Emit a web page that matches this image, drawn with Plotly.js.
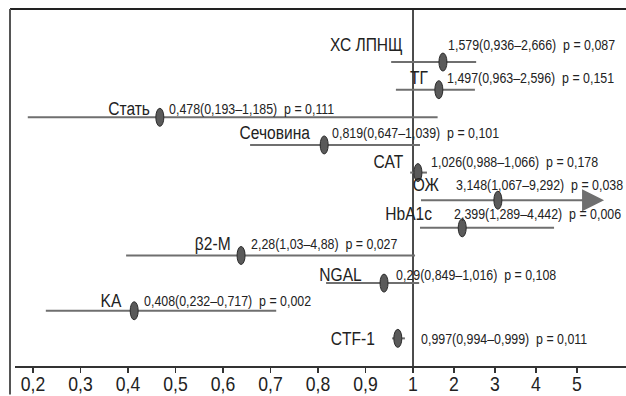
<!DOCTYPE html>
<html>
<head>
<meta charset="utf-8">
<script src="https://cdn.plot.ly/plotly-3.0.1.min.js"></script>
<style>html,body{margin:0;padding:0;background:#fff;}#chart{width:626px;height:396px;}</style>
</head>
<body>
<div id="chart"></div>
<script>
// ---- data ----
const categories = ['ХС ЛПНЩ','ТГ','Стать','Сечовина','САТ','ОЖ','HbA1c','β2-M','NGAL','KA','CTF-1'];
const estimate  = [1.73, 1.63, 0.467, 0.813, 1.12, 3.07, 2.2, 0.638, 0.939, 0.413, 0.968];
const lowerCI   = [0.954, 0.964, 0.189, 0.657, 0.994, 1.195, 1.17, 0.396, 0.817, 0.227, 0.956];
const upperCI   = [2.54, 2.51, 1.6, 1.17, 1.34, 5.66, 4.44, 1.05, 1.15, 0.712, 0.983];
const valueText = [
  '1,579(0,936–2,666)  p = 0,087',
  '1,497(0,963–2,596)  p = 0,151',
  '0,478(0,193–1,185)  p = 0,111',
  '0,819(0,647–1,039)  p = 0,101',
  '1,026(0,988–1,066)  p = 0,178',
  '3,148(1,067–9,292)  p = 0,038',
  '2,399(1,289–4,442)  p = 0,006',
  '2,28(1,03–4,88)  p = 0,027',
  '0,29(0,849–1,016)  p = 0,108',
  '0,408(0,232–0,717)  p = 0,002',
  '0,997(0,994–0,999)  p = 0,011'
];
const arrowRows = ['ОЖ'];
const tickValues = [0.2,0.3,0.4,0.5,0.6,0.7,0.8,0.9,1,2,3,4,5];
const tickLabels = ['0,2','0,3','0,4','0,5','0,6','0,7','0,8','0,9','1','2','3','4','5'];

// ---- layout helpers (styles/positions) ----
const RIGHT_SCALE = 41/47.5;           // compression of the 1..5 segment
function pos(v){ return v <= 1 ? (v - 0.2)/0.1 : 8 + (v - 1)*RIGHT_SCALE; }
// text offsets per row: [label x-shift, value x-shift, y-shift]
const textOffsets = [
  [-38, 3, 18],[-9, 6, 12],[-8, 7, 9],[-12, 6, 12],[-13, 11, 11],
  [-57, -44, 16],[-28, -10, 14],[-8, 8, 12],[-20, 10, 9],[-10, 8, 10],[-21, 21, 0]
];
const FONT = '"Liberation Sans", Arial, sans-serif';
const LABEL_NARROW = 0.82;
const VALUE_NARROW = 0.8;
const TICK_NARROW = 0.88;
const LINE_COL = '#6f6f6f';

const traces = [];
const shapes = [];
const annotations = [];
const annoAlign = [];
categories.forEach((c, i) => {
  const isArrow = arrowRows.includes(c);
  const xEnd = isArrow ? pos(upperCI[i]) - 0.4 : pos(upperCI[i]);
  traces.push({
    type: 'scatter', mode: 'lines',
    x: [pos(lowerCI[i]), xEnd], y: [i, i],
    line: {color: LINE_COL, width: 2}, hoverinfo: 'skip', showlegend: false
  });
  if (isArrow) {
    annotations.push({
      x: pos(upperCI[i]), y: i, ax: pos(upperCI[i]) - 0.5, ay: i,
      xref: 'x', yref: 'y', axref: 'x', ayref: 'y', text: '',
      showarrow: true, arrowhead: 2, arrowsize: 2.2, arrowwidth: 2, arrowcolor: LINE_COL
    });
    annoAlign.push(null);
  }
  shapes.push({
    type: 'circle', xref: 'x', yref: 'y', xsizemode: 'pixel', ysizemode: 'pixel',
    xanchor: pos(estimate[i]), yanchor: i, x0: -4, x1: 4, y0: -9, y1: 9,
    fillcolor: '#5a5a5a', line: {color: '#2a2a2a', width: 1}, layer: 'above'
  });
  const o = textOffsets[i];
  annotations.push({
    x: pos(estimate[i]), y: i, xref: 'x', yref: 'y', text: c, showarrow: false,
    xanchor: 'right', yanchor: 'middle', xshift: o[0], yshift: o[2],
    font: {family: FONT, size: 19, color: '#222'}
  });
  annoAlign.push(['right', LABEL_NARROW]);
  annotations.push({
    x: pos(estimate[i]), y: i, xref: 'x', yref: 'y', text: valueText[i], showarrow: false,
    xanchor: 'left', yanchor: 'middle', xshift: o[1], yshift: o[2],
    font: {family: FONT, size: 15.5, color: '#222'}
  });
  annoAlign.push(['left', VALUE_NARROW]);
});

// reference line at 1
shapes.push({type: 'line', xref: 'x', yref: 'paper', x0: pos(1), x1: pos(1), y0: 0, y1: 1,
  line: {color: '#111', width: 1.5}, layer: 'below'});
// frame: top and left
shapes.push({type: 'line', xref: 'paper', yref: 'paper', x0: -5/611, x1: 1.01, y0: 1, y1: 1,
  line: {color: '#222', width: 2}});
shapes.push({type: 'line', xref: 'paper', yref: 'paper', x0: -5/611, x1: -5/611, y0: 1, y1: -0.08,
  line: {color: '#555', width: 2}});

const layout = {
  width: 626, height: 396,
  margin: {l: 15, r: 0, t: 9, b: 30.4},
  paper_bgcolor: '#fff', plot_bgcolor: '#fff',
  showlegend: false,
  xaxis: {
    range: [-0.379, 12.484], tickmode: 'array',
    tickvals: tickValues.map(pos), ticktext: tickLabels,
    showgrid: false, zeroline: false, showline: true, linecolor: '#333', linewidth: 1.5,
    ticks: 'outside', ticklen: 5, tickcolor: '#333', tickwidth: 1.2,
    ticklabelstandoff: -5,
    tickfont: {family: FONT, size: 20, color: '#222'}
  },
  yaxis: {
    range: [11, -1.92], showgrid: false, zeroline: false, showline: false,
    showticklabels: false, ticks: ''
  },
  shapes: shapes,
  annotations: annotations
};

function narrow(t, pivotMode, s) {
  const bb = t.getBBox();
  const px = pivotMode === 'left' ? bb.x : pivotMode === 'right' ? bb.x + bb.width : bb.x + bb.width / 2;
  const prev = t.getAttribute('transform') || '';
  t.setAttribute('transform', prev + ' translate(' + px + ',0) scale(' + s + ',1) translate(' + (-px) + ',0)');
}

Plotly.newPlot('chart', traces, layout, {displayModeBar: false, staticPlot: true}).then(gd => {
  // condensed look (the original uses a narrow typeface)
  gd.querySelectorAll('g.annotation').forEach(g => {
    const k = +g.getAttribute('data-index');
    const al = annoAlign[k];
    const t = g.querySelector('text.annotation-text');
    if (!t || !al) return;
    narrow(t, al[0], al[1]);
  });
  gd.querySelectorAll('.xtick text').forEach(t => narrow(t, 'center', TICK_NARROW));
});
</script>
</body>
</html>
